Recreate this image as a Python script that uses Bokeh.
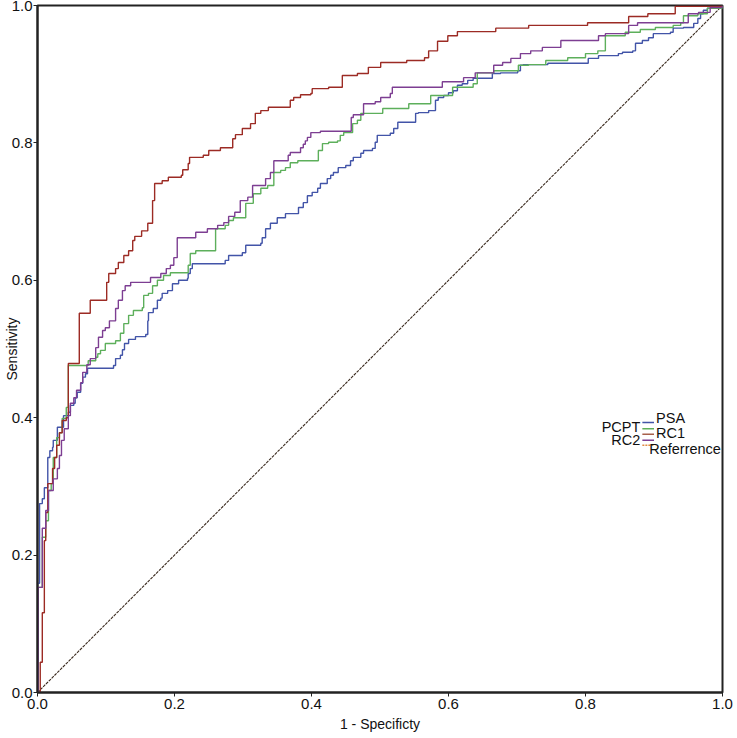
from bokeh.plotting import figure
from bokeh.models import Label, FixedTicker, Range1d, PrintfTickFormatter
from bokeh.embed import file_html
from bokeh.resources import INLINE

# ---- data (1 - specificity, sensitivity) ----
pcpt_fpr = [0, 0, 0.003, 0.007, 0.010, 0.015, 0.018, 0.022, 0.023, 0.029, 0.038, 0.045, 0.048, 0.053, 0.055,
            0.058, 0.063, 0.066, 0.070, 0.073, 0.111, 0.114, 0.121, 0.124, 0.127, 0.133, 0.143, 0.158, 0.161,
            0.162, 0.169, 0.175, 0.180, 0.182, 0.190, 0.197, 0.206, 0.219, 0.220, 0.223, 0.226, 0.274, 0.279,
            0.299, 0.304, 0.326, 0.328, 0.333, 0.340, 0.350, 0.362, 0.381, 0.388, 0.394, 0.401, 0.409, 0.413,
            0.423, 0.428, 0.432, 0.439, 0.450, 0.457, 0.461, 0.472, 0.476, 0.489, 0.493, 0.496, 0.515, 0.520,
            0.526, 0.552, 0.556, 0.571, 0.581, 0.585, 0.593, 0.600, 0.607, 0.613, 0.620, 0.628, 0.636, 0.664,
            0.676, 0.701, 0.705, 0.709, 0.745, 0.804, 0.819, 0.848, 0.854, 0.869, 0.873, 0.883, 0.892, 0.899,
            0.924, 0.928, 0.943, 0.958, 0.964, 0.968, 0.972, 0.978, 0.993, 1.0]
pcpt_tpr = [0, 0.159, 0.275, 0.282, 0.298, 0.342, 0.352, 0.357, 0.367, 0.386, 0.403, 0.408, 0.418, 0.421, 0.429,
            0.437, 0.450, 0.459, 0.464, 0.472, 0.476, 0.486, 0.491, 0.499, 0.508, 0.514, 0.518, 0.521, 0.541,
            0.553, 0.559, 0.571, 0.574, 0.581, 0.585, 0.595, 0.600, 0.603, 0.610, 0.617, 0.624, 0.629, 0.636,
            0.640, 0.651, 0.654, 0.662, 0.675, 0.683, 0.691, 0.697, 0.706, 0.713, 0.723, 0.728, 0.734, 0.741,
            0.748, 0.753, 0.757, 0.764, 0.767, 0.774, 0.779, 0.785, 0.789, 0.792, 0.801, 0.811, 0.814, 0.821,
            0.830, 0.843, 0.844, 0.847, 0.862, 0.866, 0.869, 0.873, 0.876, 0.884, 0.886, 0.891, 0.894, 0.901,
            0.902, 0.905, 0.913, 0.914, 0.916, 0.923, 0.927, 0.930, 0.932, 0.934, 0.945, 0.949, 0.953, 0.959,
            0.961, 0.967, 0.968, 0.974, 0.981, 0.988, 0.993, 0.996, 0.997, 1.0]

psa_fpr = [0, 0, 0.007, 0.012, 0.016, 0.020, 0.023, 0.028, 0.032, 0.036, 0.042, 0.045, 0.074, 0.085, 0.088,
           0.092, 0.099, 0.114, 0.121, 0.126, 0.133, 0.140, 0.153, 0.155, 0.162, 0.168, 0.175, 0.184, 0.194,
           0.220, 0.223, 0.231, 0.260, 0.274, 0.279, 0.286, 0.304, 0.315, 0.326, 0.336, 0.345, 0.355, 0.362,
           0.369, 0.380, 0.410, 0.416, 0.425, 0.438, 0.442, 0.447, 0.460, 0.467, 0.472, 0.504, 0.542, 0.574,
           0.606, 0.636, 0.642, 0.666, 0.702, 0.717, 0.742, 0.774, 0.800, 0.818, 0.829, 0.858, 0.880, 0.902,
           0.928, 0.939, 0.943, 0.964, 0.978, 1.0]
psa_tpr = [0, 0.153, 0.226, 0.250, 0.294, 0.304, 0.342, 0.371, 0.378, 0.399, 0.415, 0.476, 0.483, 0.488, 0.493,
           0.498, 0.508, 0.512, 0.523, 0.537, 0.549, 0.556, 0.560, 0.578, 0.581, 0.592, 0.600, 0.607, 0.611,
           0.622, 0.639, 0.643, 0.675, 0.680, 0.687, 0.691, 0.712, 0.726, 0.734, 0.738, 0.757, 0.760, 0.764,
           0.771, 0.774, 0.789, 0.799, 0.801, 0.803, 0.811, 0.815, 0.828, 0.833, 0.843, 0.850, 0.857, 0.869,
           0.881, 0.886, 0.902, 0.905, 0.913, 0.914, 0.920, 0.924, 0.930, 0.934, 0.956, 0.961, 0.965, 0.968,
           0.971, 0.975, 0.985, 0.988, 0.996, 1.0]

rc1_fpr = [0, 0.004, 0.007, 0.010, 0.012, 0.015, 0.022, 0.025, 0.028, 0.032, 0.036, 0.042, 0.045, 0.061, 0.077,
           0.101, 0.104, 0.114, 0.118, 0.126, 0.133, 0.139, 0.142, 0.152, 0.161, 0.168, 0.171, 0.182, 0.191,
           0.210, 0.212, 0.220, 0.222, 0.242, 0.250, 0.267, 0.285, 0.289, 0.299, 0.311, 0.318, 0.326, 0.337,
           0.369, 0.374, 0.384, 0.399, 0.401, 0.425, 0.445, 0.467, 0.483, 0.501, 0.539, 0.565, 0.571, 0.584,
           0.599, 0.613, 0.669, 0.717, 0.803, 0.863, 0.891, 0.931, 1.0]
rc1_tpr = [0, 0.044, 0.116, 0.221, 0.262, 0.304, 0.326, 0.342, 0.360, 0.378, 0.396, 0.400, 0.479, 0.552, 0.571,
           0.597, 0.610, 0.617, 0.626, 0.636, 0.643, 0.658, 0.664, 0.672, 0.683, 0.716, 0.741, 0.745, 0.750,
           0.753, 0.761, 0.770, 0.779, 0.782, 0.789, 0.793, 0.806, 0.812, 0.821, 0.828, 0.843, 0.847, 0.852,
           0.862, 0.866, 0.870, 0.872, 0.879, 0.881, 0.898, 0.901, 0.910, 0.917, 0.920, 0.924, 0.934, 0.948,
           0.956, 0.962, 0.967, 0.971, 0.975, 0.984, 0.988, 0.999, 1.0]

rc2_fpr = [0, 0.001, 0.007, 0.012, 0.016, 0.023, 0.029, 0.032, 0.035, 0.039, 0.045, 0.048, 0.053, 0.057, 0.063,
           0.066, 0.072, 0.077, 0.085, 0.089, 0.095, 0.099, 0.105, 0.114, 0.118, 0.124, 0.128, 0.136, 0.165,
           0.180, 0.188, 0.194, 0.199, 0.204, 0.231, 0.248, 0.263, 0.272, 0.279, 0.288, 0.296, 0.307, 0.314,
           0.333, 0.340, 0.345, 0.366, 0.369, 0.384, 0.388, 0.391, 0.394, 0.399, 0.413, 0.458, 0.461, 0.476,
           0.493, 0.501, 0.515, 0.518, 0.591, 0.622, 0.639, 0.666, 0.679, 0.691, 0.705, 0.720, 0.737, 0.764,
           0.819, 0.829, 0.863, 0.876, 0.950, 0.965, 0.982, 1.0]
rc2_tpr = [0, 0.153, 0.239, 0.265, 0.294, 0.311, 0.326, 0.345, 0.367, 0.384, 0.403, 0.421, 0.429, 0.440, 0.451,
           0.466, 0.477, 0.486, 0.502, 0.517, 0.527, 0.531, 0.541, 0.559, 0.571, 0.585, 0.592, 0.597, 0.604,
           0.610, 0.617, 0.622, 0.633, 0.662, 0.670, 0.675, 0.680, 0.684, 0.693, 0.699, 0.716, 0.721, 0.738,
           0.748, 0.757, 0.774, 0.782, 0.786, 0.793, 0.798, 0.803, 0.808, 0.815, 0.817, 0.837, 0.841, 0.857,
           0.860, 0.866, 0.872, 0.881, 0.889, 0.895, 0.902, 0.913, 0.917, 0.923, 0.930, 0.934, 0.939, 0.949,
           0.956, 0.959, 0.971, 0.975, 0.988, 0.990, 0.997, 1.0]

ref_x = [0.0, 1.0]
ref_y = [0.0, 1.0]

tick_values = [0.0, 0.2, 0.4, 0.6, 0.8, 1.0]
series_names = ["PCPT", "PSA", "RC1", "RC2", "Referrence"]
series_colors = ["#4254A8", "#5DAF5B", "#9C2B24", "#7D3E92", "#3A2A1E"]
legend_swatch_colors = ["#4254A8", "#5DAF5B", "#A8604A", "#7D3E92", "#E08A40"]

FONT = "Liberation Sans"

p = figure(width=737, height=738, output_backend="svg", toolbar_location=None,
           x_range=Range1d(0, 1), y_range=Range1d(0, 1),
           min_border_left=37, min_border_right=15, min_border_top=5, min_border_bottom=46)
p.background_fill_color = "white"
p.border_fill_color = "white"
p.outline_line_color = "#222222"
p.outline_line_width = 2
p.grid.visible = False

for ax in (p.xaxis[0], p.yaxis[0]):
    ax.ticker = FixedTicker(ticks=tick_values)
    ax.formatter = PrintfTickFormatter(format="%.1f")
    ax.minor_tick_line_color = None
    ax.major_tick_in = 0
    ax.major_tick_out = 4
    ax.major_tick_line_color = "#222222"
    ax.axis_line_color = "#222222"
    ax.axis_line_width = 2
    ax.major_label_text_font = FONT
    ax.major_label_text_font_size = "15px"
    ax.major_label_text_color = "#111111"
    ax.axis_label_text_font = FONT
    ax.axis_label_text_font_size = "14px"
    ax.axis_label_text_font_style = "normal"
    ax.axis_label_text_color = "#111111"

p.xaxis.axis_label = "1 - Specificty"
p.yaxis.axis_label = "Sensitivity"
p.xaxis.major_label_standoff = 2
p.yaxis.major_label_standoff = 1
p.xaxis.axis_label_standoff = 4
p.yaxis.axis_label_standoff = -11

# reference diagonal
p.line(ref_x, ref_y, line_color=series_colors[4], line_width=1.1, line_dash="3 1")

curves = [(pcpt_fpr, pcpt_tpr), (psa_fpr, psa_tpr), (rc1_fpr, rc1_tpr), (rc2_fpr, rc2_tpr)]
for (fx, ty), col in zip(curves, series_colors[:4]):
    p.step(fx, ty, mode="after", line_color=col, line_width=1.4)

# legend (SPSS-like overlapping legend)
sw_x0, sw_x1 = 0.883, 0.900
sw_y = [0.393, 0.384, 0.376, 0.367, 0.360]
for i, col in enumerate(legend_swatch_colors):
    p.line([sw_x0, sw_x1], [sw_y[i], sw_y[i]], line_color=col, line_width=1.5,
           line_dash="2 1" if i == 4 else "solid")

legend_text = [
    (series_names[0], 0.880, 0.386, "right"),
    (series_names[1], 0.903, 0.400, "left"),
    (series_names[2], 0.903, 0.378, "left"),
    (series_names[3], 0.880, 0.367, "right"),
    (series_names[4], 0.893, 0.355, "left"),
]
for txt, lx, ly, al in legend_text:
    p.add_layout(Label(x=lx, y=ly, text=txt, text_align=al, text_baseline="middle",
                       text_font=FONT, text_font_size="14.5px", text_color="#111111"))

open("out.html", "w").write(file_html(p, INLINE))
